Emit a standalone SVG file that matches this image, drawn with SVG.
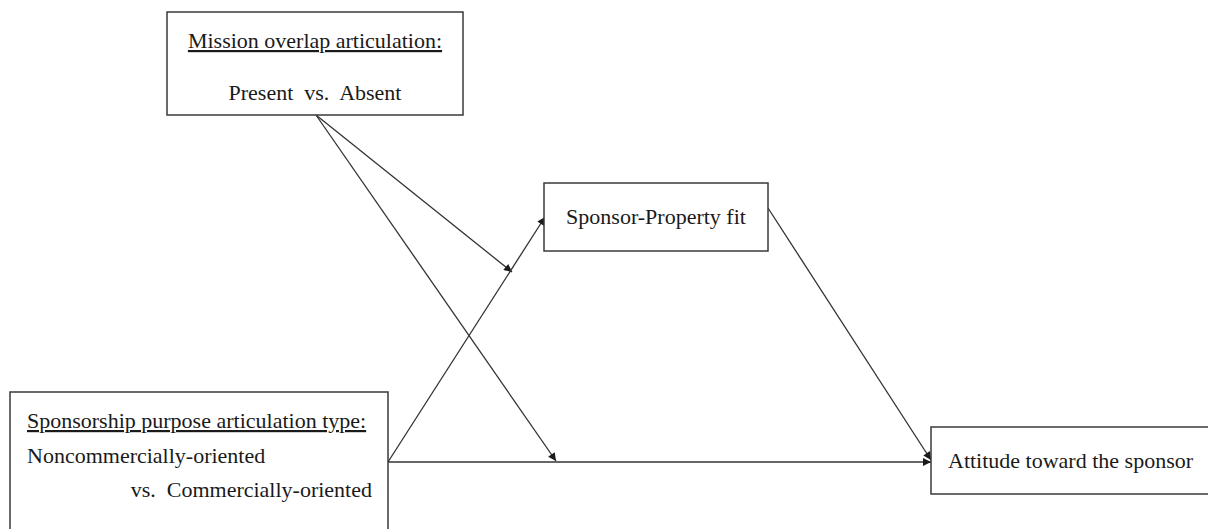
<svg xmlns="http://www.w3.org/2000/svg" width="1208" height="529" viewBox="0 0 1208 529">
  <style>
    .box { fill: #ffffff; stroke: #3a3a3a; stroke-width: 1.5; }
    .lbl { font-family: "Liberation Serif", "Times New Roman", serif; font-size: 22px; fill: #1a1a1a; white-space: pre; }
    .ul { text-decoration: underline; }
    .edge { fill: none; stroke: #333333; stroke-width: 1.3; marker-end: url(#arrow); }
  </style>
  <defs>
    <marker id="arrow" viewBox="0 0 10 10" refX="10" refY="5" markerWidth="10" markerHeight="8" markerUnits="userSpaceOnUse" orient="auto">
      <path d="M0,0 L10,5 L0,10 z" fill="#1a1a1a"/>
    </marker>
  </defs>
  <rect width="1208" height="529" fill="#ffffff"/>

  <g id="connectors">
    <line class="edge" x1="316" y1="115" x2="512" y2="272"/>
    <line class="edge" x1="316" y1="115" x2="556" y2="461"/>
    <line class="edge" x1="388" y1="462" x2="545" y2="217"/>
    <line class="edge" x1="388" y1="462" x2="931" y2="462"/>
    <line class="edge" x1="768" y1="208" x2="931" y2="460"/>
  </g>

  <g id="mission-overlap">
    <rect class="box" x="167" y="12" width="296" height="103"/>
    <text class="lbl ul" x="315" y="48" text-anchor="middle">Mission overlap articulation:</text>
    <text class="lbl" x="315" y="100" text-anchor="middle">Present  vs.  Absent</text>
  </g>

  <g id="purpose-type">
    <rect class="box" x="10" y="392" width="378" height="150"/>
    <text class="lbl ul" x="27" y="428">Sponsorship purpose articulation type:</text>
    <text class="lbl" x="27" y="463">Noncommercially-oriented</text>
    <text class="lbl" x="372" y="497" text-anchor="end">vs.  Commercially-oriented</text>
  </g>

  <g id="sponsor-fit">
    <rect class="box" x="544" y="183" width="224" height="68"/>
    <text class="lbl" x="656" y="224" text-anchor="middle">Sponsor-Property fit</text>
  </g>

  <g id="attitude">
    <rect class="box" x="931" y="427" width="285" height="67"/>
    <text class="lbl" x="948" y="468">Attitude toward the sponsor</text>
  </g>
</svg>
